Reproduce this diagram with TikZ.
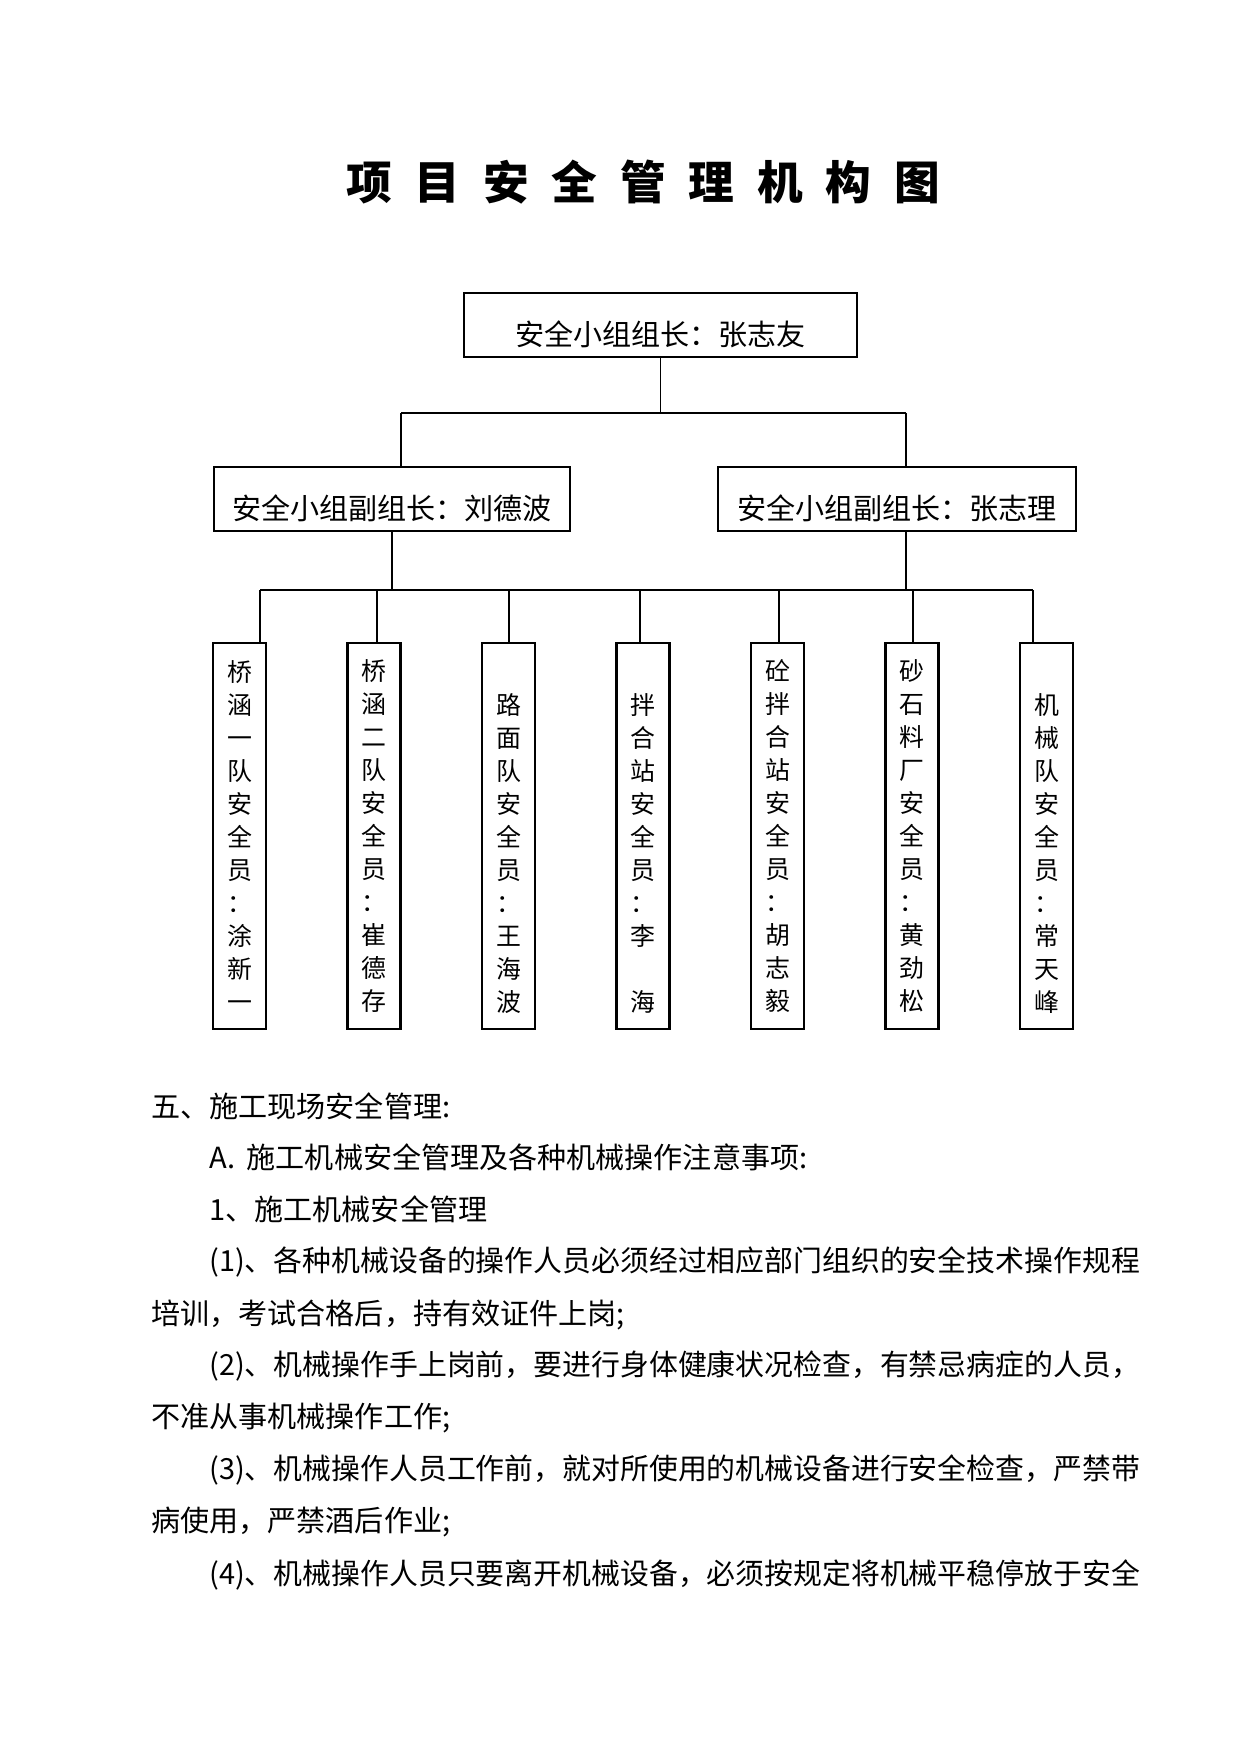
\documentclass[tikz,border=0pt]{standalone}
\usepackage{fontspec}
\usepackage{graphicx}
\setmainfont{Noto Sans CJK SC}
\newcommand{\tgap}{\hspace{0.5em}}
\newcommand{\fullline}[1]{\resizebox{448pt}{\height}{#1}}

\begin{document}
\begin{tikzpicture}[x=0.16922mm, y=-0.16922mm,
  heading/.style={inner sep=0pt, font=\fontsize{22}{26}\selectfont\bfseries},
  leadbox/.style={draw, line width=0.6pt, minimum height=30.8pt, inner sep=0pt,
    text height=22pt, text depth=2pt, font=\fontsize{14}{16}\selectfont},
  memberbox/.style={draw, line width=1pt, minimum width=25.5pt, minimum height=185.8pt,
    inner sep=0pt, align=center, font=\fontsize{12}{15.9}\selectfont},
  link/.style={line width=0.7pt},
  bar/.style={line width=1.1pt},
  bodyline/.style={anchor=base west, inner sep=0pt, font=\fontsize{14}{16}\selectfont}]

\useasboundingbox (0,0) rectangle (1241,1754);

% Title
\node[heading] (title) at (643,182) {项\tgap 目\tgap 安\tgap 全\tgap 管\tgap 理\tgap 机\tgap 构\tgap 图};

% Leader and deputies
\node[leadbox, minimum width=189.2pt] (leader) at (660.5,325) {安全小组组长：张志友};
\node[leadbox, minimum width=171.4pt] (deputyL) at (392,499) {安全小组副组长：刘德波};
\node[leadbox, minimum width=172.4pt] (deputyR) at (897,499) {安全小组副组长：张志理};

% Safety officers
\node[memberbox] (m1) at (239.5,836) {桥\\涵\\一\\队\\安\\全\\员\\：\\涂\\新\\一};
\node[memberbox] (m2) at (374,836) {桥\\涵\\二\\队\\安\\全\\员\\：\\崔\\德\\存};
\node[memberbox] (m3) at (508.5,836) {\strut\\路\\面\\队\\安\\全\\员\\：\\王\\海\\波};
\node[memberbox] (m4) at (643,836) {\strut\\拌\\合\\站\\安\\全\\员\\：\\李\\\strut\\海};
\node[memberbox] (m5) at (777.5,836) {砼\\拌\\合\\站\\安\\全\\员\\：\\胡\\志\\毅};
\node[memberbox] (m6) at (912,836) {砂\\石\\料\\厂\\安\\全\\员\\：\\黄\\劲\\松};
\node[memberbox] (m7) at (1046.5,836) {\strut\\机\\械\\队\\安\\全\\员\\：\\常\\天\\峰};

% Upper connectors
\coordinate (barAl) at (401,413);
\coordinate (barAr) at (906,413);
\draw[link] (leader.south) -- (leader.south |- barAl);
\draw[bar] (barAl) -- (barAr);
\draw[link] (barAl) -- (barAl |- deputyL.north);
\draw[link] (barAr) -- (barAr |- deputyR.north);

% Lower connectors
\coordinate (barBl) at (260,590);
\coordinate (barBr) at (1033,590);
\draw[link] (deputyL.south) -- (deputyL.south |- barBl);
\draw[link] (barAr |- deputyR.south) -- (barAr |- barBl);
\draw[bar] (barBl) -- (barBr);
\foreach \i/\x in {1/260, 2/377, 3/509, 4/640, 5/779, 6/913, 7/1033}
  \draw[link] (\x,590) -- (\x,590 |- m\i.north);

% Text below
\node[bodyline] (l1) at (151,1117) {五、施工现场安全管理:};
\node[bodyline] (l2) at (209,1168) {A.\hspace{0.4em}施工机械安全管理及各种机械操作注意事项:};
\node[bodyline] (l3) at (209,1220) {1、施工机械安全管理};
\node[bodyline] (l4) at (209,1271) {\fullline{(1)、各种机械设备的操作人员必须经过相应部门组织的安全技术操作规程}};
\node[bodyline] (l5) at (151,1324) {培训，考试合格后，持有效证件上岗;};
\node[bodyline] (l6) at (209,1375) {\fullline{(2)、机械操作手上岗前，要进行身体健康状况检查，有禁忌病症的人员，}};
\node[bodyline] (l7) at (151,1427) {不准从事机械操作工作;};
\node[bodyline] (l8) at (209,1479) {\fullline{(3)、机械操作人员工作前，就对所使用的机械设备进行安全检查，严禁带}};
\node[bodyline] (l9) at (151,1531) {病使用，严禁酒后作业;};
\node[bodyline] (l10) at (209,1584) {\fullline{(4)、机械操作人员只要离开机械设备，必须按规定将机械平稳停放于安全}};

\end{tikzpicture}
\end{document}
